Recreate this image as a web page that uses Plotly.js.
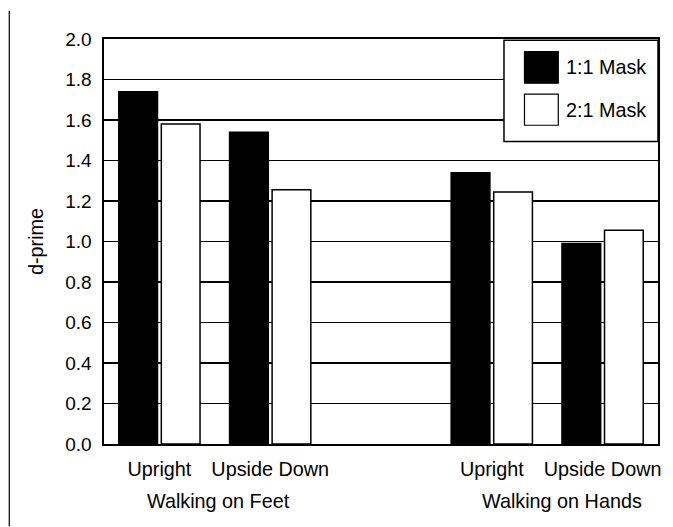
<!DOCTYPE html>
<html>
<head>
<meta charset="utf-8">
<script src="https://cdn.plot.ly/plotly-3.0.1.min.js"></script>
<style>html,body{margin:0;padding:0;background:#fff;}#chart{width:673px;height:527px;}</style>
</head>
<body>
<div id="chart"></div>
<script>
// ---- data ----
const groups = ["Walking on Feet", "Walking on Hands"];
const conditions = ["Upright", "Upside Down"];
const seriesNames = ["1:1 Mask", "2:1 Mask"];
const mask11 = [1.74, 1.54, 1.34, 0.99];   // Feet-Upright, Feet-UpsideDown, Hands-Upright, Hands-UpsideDown
const mask21 = [1.58, 1.255, 1.245, 1.055];
const yTicks = [0, 0.2, 0.4, 0.6, 0.8, 1.0, 1.2, 1.4, 1.6, 1.8, 2.0];

// positions: conditions within a group, with one empty slot between groups
const xs = [], xt = [];
groups.forEach((g, gi) => conditions.forEach((c, ci) => {
  xs.push(gi * (conditions.length + 1) + ci);
  xt.push(c);
}));
const groupCenters = groups.map((g, gi) => gi * (conditions.length + 1) + (conditions.length - 1) / 2);

const FONT = "Liberation Sans, Arial, Helvetica, sans-serif";
const FS = 19.8;
const TFS = 19;

const traces = [
  {type: "bar", name: seriesNames[0], x: xs, y: mask11,
   marker: {color: "#000", line: {color: "#000", width: 1.5}}, showlegend: false, hoverinfo: "none"},
  {type: "bar", name: seriesNames[1], x: xs, y: mask21,
   marker: {color: "#fff", line: {color: "#000", width: 1.5}}, showlegend: false, hoverinfo: "none"}
];

const annotations = groups.map((g, gi) => ({
  text: g, xref: "x", yref: "paper", x: groupCenters[gi] + (gi === 1 ? 0.13 : 0.03), y: -0.14,
  xanchor: "center", yanchor: "middle", showarrow: false, font: {family: FONT, size: FS, color: "#000"}
}));

// legend drawn as layout shapes + text
const legX0 = 0.722, legX1 = 1.0, legY0 = 0.747, legY1 = 0.997;
const swatch = [{y0: 0.891, y1: 0.969, fill: "#000"}, {y0: 0.787, y1: 0.864, fill: "#fff"}];
const shapes = [
  {type: "rect", xref: "paper", yref: "paper", x0: legX0, x1: legX1, y0: legY0, y1: legY1,
   fillcolor: "#fff", line: {color: "#000", width: 1.5}, layer: "above"},
  {type: "line", xref: "paper", yref: "paper", x0: -0.171, x1: -0.171, y0: -0.203, y1: 1.07,
   line: {color: "#000", width: 1.2}}
];
swatch.forEach((s, i) => {
  shapes.push({type: "rect", xref: "paper", yref: "paper", x0: 0.759, x1: 0.820, y0: s.y0, y1: s.y1,
    fillcolor: s.fill, line: {color: "#000", width: 1.2}, layer: "above"});
  annotations.push({text: seriesNames[i], xref: "paper", yref: "paper", x: 0.831, y: (s.y0 + s.y1) / 2,
    xanchor: "left", yanchor: "middle", showarrow: false, font: {family: FONT, size: FS, color: "#000"}});
});

const layout = {
  width: 673, height: 527,
  margin: {l: 104, r: 15, t: 39, b: 83},
  paper_bgcolor: "#fff", plot_bgcolor: "#fff",
  font: {family: FONT, size: FS, color: "#000"},
  barmode: "group", bargap: 0.232, bargroupgap: 0.09,
  xaxis: {
    range: [-0.5, groups.length * (conditions.length + 1) - 1.5],
    tickmode: "array", tickvals: xs, ticktext: xt,
    showgrid: false, zeroline: false, ticks: "", ticklabelstandoff: 7,
    showline: true, mirror: true, linecolor: "#000", linewidth: 1.6,
    tickfont: {family: FONT, size: FS, color: "#000"}
  },
  yaxis: {
    range: [0, 2.0], tickmode: "array", tickvals: yTicks, tickformat: ".1f",
    showgrid: true, gridcolor: "#000", gridwidth: 1.7, zeroline: false,
    ticks: "", ticklabelstandoff: 7,
    showline: true, mirror: true, linecolor: "#000", linewidth: 1.6,
    tickfont: {family: FONT, size: TFS, color: "#000"},
    title: {text: "d-prime", standoff: 16, font: {family: FONT, size: FS, color: "#000"}}
  },
  shapes: shapes,
  annotations: annotations,
  showlegend: false
};

Plotly.newPlot("chart", traces, layout, {staticPlot: true, displayModeBar: false});
</script>
</body>
</html>
